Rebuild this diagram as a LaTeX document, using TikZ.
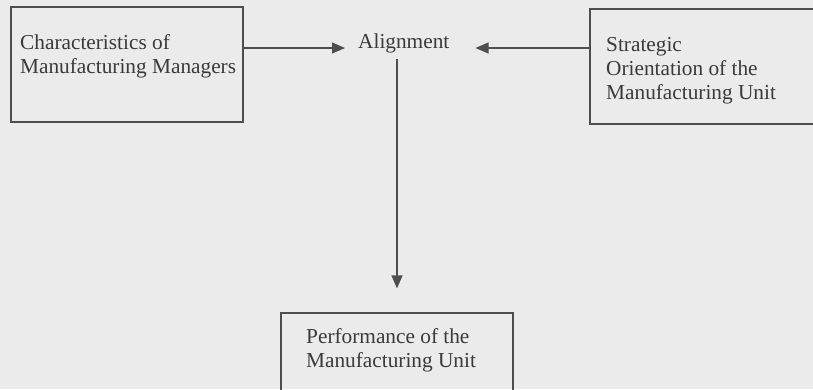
\documentclass[tikz,border=0pt]{standalone}
\usepackage{fontspec}
\setmainfont{Liberation Serif}
\usepackage{xcolor}
\usepackage{tikz}
\usetikzlibrary{arrows.meta,calc,positioning}

\definecolor{paper}{HTML}{EBEBEB}
\definecolor{ink}{HTML}{3A3A3A}
\definecolor{rule}{HTML}{4E4E4E}

\begin{document}
\begin{tikzpicture}[x=1pt, y=-1pt, font=\fontsize{21.3}{24}\selectfont]
			\tikzstyle{box}=[draw=rule, line width=1.2pt, inner sep=0pt]
			\tikzstyle{txt}=[text=ink, inner sep=0pt, align=left, anchor=north west]
			\tikzstyle{link}=[draw=rule, line width=1.2pt, -{Triangle[length=13pt, width=11pt]}]
			
			% page and frame
			\fill[paper] (0,0) rectangle (813,389);
			\useasboundingbox (0,0) rectangle (813,389);
			\clip (0,0) rectangle (813,389);
			
			% the three boxes
			\node[box, minimum width=232pt, minimum height=115pt] (mgr)   at (127,64.5)  {};
			\node[box, minimum width=250pt, minimum height=115pt] (strat) at (715,66.5)  {};
			\node[box, minimum width=232pt, minimum height=107pt] (perf)  at (397,366.5) {};
			
			\node[txt] (mgrtxt)   at (20,34.5)  {Characteristics of\\Manufacturing Managers};
			\node[txt] (strattxt) at (606,37.5) {Strategic\\Orientation of the\\Manufacturing Unit};
			\node[txt] (perftxt)  at (306,328.5) {Performance of the\\Manufacturing Unit};
			
			% centre label
			\node[text=ink, inner sep=0pt, anchor=base west] (align) at (358,48) {Alignment};
			
			% connectors
			\draw[link, shorten >=13pt] (mgr.east |- align.base west) -- (align.base west);
			\draw[link, shorten >=26pt] (strat.west |- align.base east) -- (align.base east);
			\draw[link, shorten >=24pt] ([yshift=-6.5pt]align.south -| perf.north) -- (perf.north);
			\end{tikzpicture}
\end{document}
